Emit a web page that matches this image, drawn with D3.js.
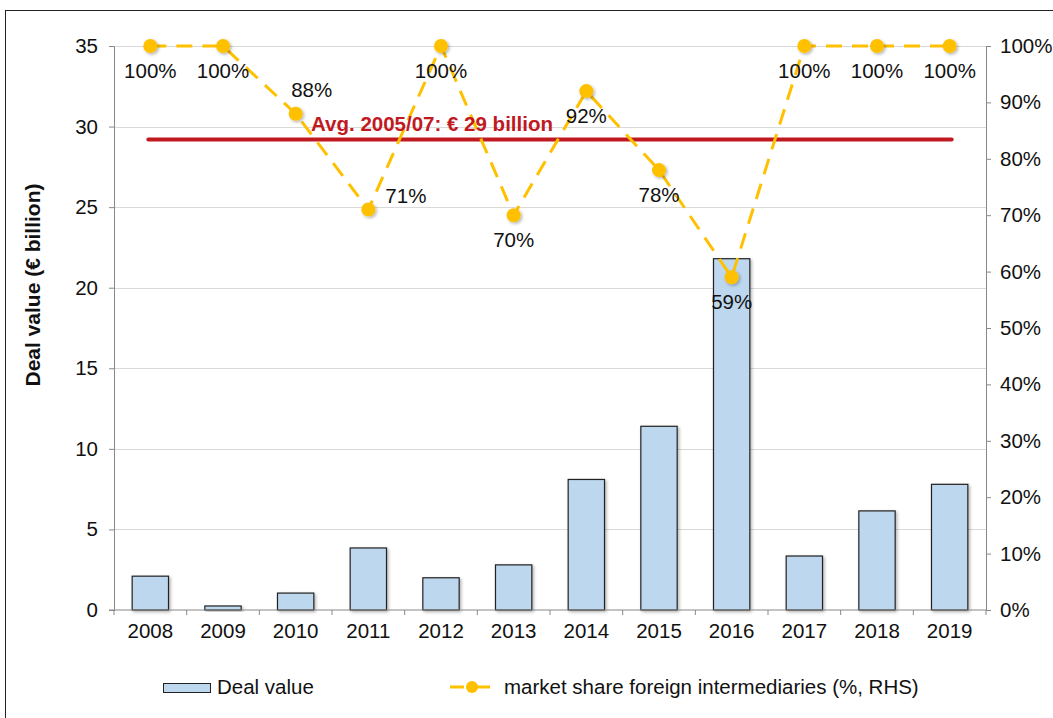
<!DOCTYPE html>
<html>
<head>
<meta charset="utf-8">
<script src="https://cdn.jsdelivr.net/npm/d3@7"></script>
<style>
  body { margin: 0; background: #fff; }
  text { font-family: "Liberation Sans", Arial, sans-serif; }
</style>
</head>
<body>
<div id="chart"></div>
<script>
var width = 1053;
var height = 718;
var fs = 20.5;

// data -----------------------------------------------------------
var years = ["2008", "2009", "2010", "2011", "2012", "2013", "2014", "2015", "2016", "2017", "2018", "2019"];
var dealValue = [2.1, 0.25, 1.05, 3.85, 2.0, 2.8, 8.1, 11.4, 21.8, 3.35, 6.15, 7.8];
var foreignShare = [100, 100, 88, 71, 100, 70, 92, 78, 59, 100, 100, 100];
var avgValue = 29.2;
var avgLabel = "Avg. 2005/07: € 29 billion";
var leftTicks = [0, 5, 10, 15, 20, 25, 30, 35];
var rightTicks = [0, 10, 20, 30, 40, 50, 60, 70, 80, 90, 100];
// where each share label sits relative to its point
var labelPos = ["below", "below", "above", "right", "below", "below", "below", "below", "below", "below", "below", "below"];

var margin = {left: 114, right: 986, top: 46, bottom: 610};

var svg = d3.select("#chart")
  .append("svg")
  .attr("width", width)
  .attr("height", height);

// outer frame
svg.append("rect")
  .attr("x", 5.5)
  .attr("y", 10.5)
  .attr("width", 1100)
  .attr("height", 800)
  .attr("fill", "none")
  .attr("stroke", "#222")
  .attr("stroke-width", 1);

var x = d3.scaleBand()
  .domain(years)
  .range([margin.left, margin.right])
  .paddingInner(0.5)
  .paddingOuter(0.25);

var xOuter = d3.scaleBand()
  .domain(years)
  .range([margin.left, margin.right]);

var y = d3.scaleLinear()
  .domain([0, 35])
  .range([margin.bottom, margin.top]);

var y2 = d3.scaleLinear()
  .domain([0, 100])
  .range([margin.bottom, margin.top]);

// gridlines
svg.append("g")
  .selectAll("line")
  .data(leftTicks.filter(function(d) { return d > 0; }))
  .enter()
  .append("line")
    .attr("x1", margin.left)
    .attr("x2", margin.right)
    .attr("y1", function(d) { return Math.round(y(d)) + 0.5; })
    .attr("y2", function(d) { return Math.round(y(d)) + 0.5; })
    .attr("stroke", "#d9d9d9")
    .attr("stroke-width", 1);

// bars
var defs = svg.append("defs");
var shadow = defs.append("filter").attr("id", "shadow")
  .attr("x", "-20%").attr("y", "-20%").attr("width", "150%").attr("height", "150%");
shadow.append("feDropShadow")
  .attr("dx", 1.5).attr("dy", 1.5).attr("stdDeviation", 1.5)
  .attr("flood-color", "#000").attr("flood-opacity", 0.3);

svg.append("g")
  .selectAll("rect")
  .data(years)
  .enter()
  .append("rect")
    .attr("x", function(d) { return x(d); })
    .attr("y", function(d, i) { return y(dealValue[i]); })
    .attr("width", x.bandwidth())
    .attr("height", function(d, i) { return y(0) - y(dealValue[i]); })
    .attr("fill", "#bdd7ee")
    .attr("stroke", "#222")
    .attr("stroke-width", 1.2)
    .attr("filter", "url(#shadow)");

// left axis
var leftAxis = svg.append("g")
  .attr("transform", "translate(" + margin.left + ",0)")
  .call(d3.axisLeft(y).tickValues(leftTicks).tickSize(5).tickPadding(11));
leftAxis.select(".domain").attr("stroke", "#888");
leftAxis.selectAll(".tick line").attr("stroke", "#888");
leftAxis.selectAll("text").attr("font-size", fs).attr("fill", "#111");

// right axis
var rightAxis = svg.append("g")
  .attr("transform", "translate(" + margin.right + ",0)")
  .call(d3.axisRight(y2).tickValues(rightTicks).tickSize(5).tickPadding(9)
    .tickFormat(function(d) { return d + "%"; }));
rightAxis.select(".domain").attr("stroke", "#888");
rightAxis.selectAll(".tick line").attr("stroke", "#888");
rightAxis.selectAll("text").attr("font-size", fs).attr("fill", "#111");

// bottom axis
var bottomAxis = svg.append("g")
  .attr("transform", "translate(0," + margin.bottom + ")")
  .call(d3.axisBottom(xOuter).tickSize(0).tickPadding(13));
bottomAxis.select(".domain").attr("stroke", "#888").attr("d", "M" + (margin.left - 5) + ",0H" + margin.right);
bottomAxis.selectAll("text").attr("font-size", fs).attr("fill", "#111");
svg.append("g")
  .selectAll("line")
  .data(years.concat(["end"]))
  .enter()
  .append("line")
    .attr("x1", function(d, i) { return margin.left + i * xOuter.step(); })
    .attr("x2", function(d, i) { return margin.left + i * xOuter.step(); })
    .attr("y1", margin.bottom)
    .attr("y2", margin.bottom + 5)
    .attr("stroke", "#888");

// y axis title
svg.append("text")
  .attr("transform", "translate(40," + ((margin.top + margin.bottom) / 2 - 43) + ") rotate(-90)")
  .attr("text-anchor", "middle")
  .attr("font-size", 21)
  .attr("font-weight", "bold")
  .attr("fill", "#111")
  .text("Deal value (€ billion)");

// average line
var cx = function(d) { return x(d) + x.bandwidth() / 2; };
svg.append("line")
  .attr("x1", cx(years[0]) - 2)
  .attr("x2", cx(years[years.length - 1]) + 2)
  .attr("y1", y(avgValue))
  .attr("y2", y(avgValue))
  .attr("stroke", "#c0191f")
  .attr("stroke-width", 4)
  .attr("stroke-linecap", "round");

// share line
var line = d3.line()
  .x(function(d, i) { return cx(years[i]); })
  .y(function(d) { return y2(d); });

svg.append("path")
  .datum(foreignShare)
  .attr("d", line)
  .attr("fill", "none")
  .attr("stroke", "#ffc000")
  .attr("stroke-width", 3)
  .attr("stroke-dasharray", "16,10");

svg.append("g")
  .selectAll("circle")
  .data(foreignShare)
  .enter()
  .append("circle")
    .attr("cx", function(d, i) { return cx(years[i]); })
    .attr("cy", function(d) { return y2(d); })
    .attr("r", 7)
    .attr("fill", "#ffc000")
    .attr("filter", "url(#shadow)");

// avg label (drawn over line)
svg.append("text")
  .attr("x", 432)
  .attr("y", 131)
  .attr("text-anchor", "middle")
  .attr("font-size", 20.5)
  .attr("font-weight", "bold")
  .attr("fill", "#c0191f")
  .text(avgLabel);

// share labels
svg.append("g")
  .selectAll("text")
  .data(foreignShare)
  .enter()
  .append("text")
    .attr("x", function(d, i) {
      var p = labelPos[i];
      if (p === "right") return cx(years[i]) + 17;
      if (p === "above") return cx(years[i]) + 16;
      return cx(years[i]);
    })
    .attr("y", function(d, i) {
      var p = labelPos[i];
      if (p === "right") return y2(d) - 7;
      if (p === "above") return y2(d) - 17;
      return y2(d) + 31.5;
    })
    .attr("text-anchor", function(d, i) { return labelPos[i] === "right" ? "start" : "middle"; })
    .attr("font-size", fs)
    .attr("fill", "#111")
    .text(function(d) { return d + "%"; });

// legend
var legend = svg.append("g");
legend.append("rect")
  .attr("x", 163.5)
  .attr("y", 683.5)
  .attr("width", 47)
  .attr("height", 9)
  .attr("fill", "#bdd7ee")
  .attr("stroke", "#222");
legend.append("text")
  .attr("x", 217)
  .attr("y", 694)
  .attr("font-size", fs)
  .attr("fill", "#111")
  .text("Deal value");

legend.append("line")
  .attr("x1", 450)
  .attr("x2", 491)
  .attr("y1", 687)
  .attr("y2", 687)
  .attr("stroke", "#ffc000")
  .attr("stroke-width", 3)
  .attr("stroke-dasharray", "14,12");
legend.append("circle")
  .attr("cx", 472)
  .attr("cy", 687)
  .attr("r", 6)
  .attr("fill", "#ffc000");
legend.append("text")
  .attr("x", 504)
  .attr("y", 694)
  .attr("font-size", fs)
  .attr("fill", "#111")
  .text("market share foreign intermediaries (%, RHS)");
</script>
</body>
</html>
